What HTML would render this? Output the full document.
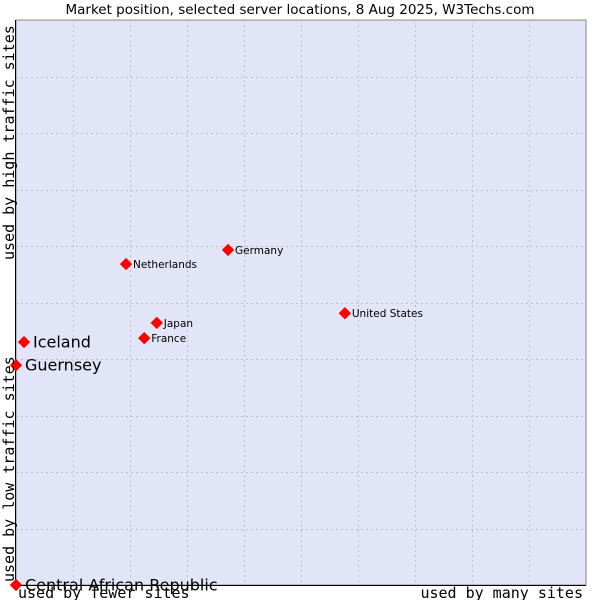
<!DOCTYPE html>
<html><head><meta charset="utf-8"><style>
body{margin:0;background:#fff;width:600px;height:600px;overflow:hidden}
svg{display:block}
</style></head><body>
<svg id="chart" width="600" height="600" xmlns="http://www.w3.org/2000/svg">
<text x="300" y="14" text-anchor="middle" font-family="DejaVu Sans, sans-serif" font-size="13.5" fill="#000">Market position, selected server locations, 8 Aug 2025, W3Techs.com</text>
<rect x="16" y="20" width="570" height="565" fill="#e2e4f8" stroke="#888" stroke-width="1"/>
<g id="grid"></g>
<line x1="15.5" y1="20" x2="15.5" y2="585.5" stroke="#000"/>
<line x1="15.5" y1="585.5" x2="586" y2="585.5" stroke="#000"/>
<g id="points"></g>
<text x="18" y="598" font-family="DejaVu Sans Mono, Liberation Mono, monospace" font-size="15">used by fewer sites</text>
<text x="583" y="598" text-anchor="end" font-family="DejaVu Sans Mono, Liberation Mono, monospace" font-size="15">used by many sites</text>
<text transform="translate(14,582) rotate(-90)" font-family="DejaVu Sans Mono, Liberation Mono, monospace" font-size="15">used by low traffic sites</text>
<text transform="translate(14,260) rotate(-90)" font-family="DejaVu Sans Mono, Liberation Mono, monospace" font-size="15">used by high traffic sites</text>
</svg>
<script>
const names = ["Germany","Netherlands","United States","Japan","France","Iceland","Guernsey","Central African Republic"];
const xValues = [37.2,19.3,57.7,24.7,22.5,1.4,0,0];
const yValues = [59.3,56.8,48.1,46.4,43.7,43.0,38.9,0];
const bigLabel = [false,false,false,false,false,true,true,true];
const NS="http://www.w3.org/2000/svg";
const X0=16,X1=586,Y0=585,Y1=20;
function sx(v){return X0+v/100*(X1-X0);}
function sy(v){return Y0-v/100*(Y0-Y1);}
const grid=document.getElementById('grid');
for(let i=1;i<10;i++){
  const l=document.createElementNS(NS,'line');
  const x=Math.round(sx(i*10))+0.5;
  l.setAttribute('x1',x);l.setAttribute('x2',x);l.setAttribute('y1',Y1);l.setAttribute('y2',Y0);
  l.setAttribute('stroke','#c0c0c0');l.setAttribute('stroke-dasharray','2,3');
  
  
  grid.appendChild(l);
  const h=document.createElementNS(NS,'line');
  const y=Math.round(sy(i*10))+0.5;
  h.setAttribute('x1',X0);h.setAttribute('x2',X1);h.setAttribute('y1',y);h.setAttribute('y2',y);
  h.setAttribute('stroke','#c0c0c0');h.setAttribute('stroke-dasharray','2,3');
  
  
  grid.appendChild(h);
}
const pts=document.getElementById('points');
names.forEach((n,i)=>{
  const x=sx(xValues[i]),y=sy(yValues[i]);
  const d=document.createElementNS(NS,'path');
  d.setAttribute('d',`M${x},${y-5.5}L${x+5.5},${y}L${x},${y+5.5}L${x-5.5},${y}Z`);
  d.setAttribute('fill','#f00');
  d.setAttribute('stroke','#f00');
  d.setAttribute('stroke-linejoin','round');
  
  
  pts.appendChild(d);
  const t=document.createElementNS(NS,'text');
  t.setAttribute('x',x+(bigLabel[i]?9:7));
  t.setAttribute('y',y+(bigLabel[i]?5.5:4));
  t.setAttribute('font-family','DejaVu Sans, sans-serif');
  t.setAttribute('font-size',bigLabel[i]?'16':'10.5');
  t.textContent=n;
  
  
  pts.appendChild(t);
});
</script>
</body></html>
